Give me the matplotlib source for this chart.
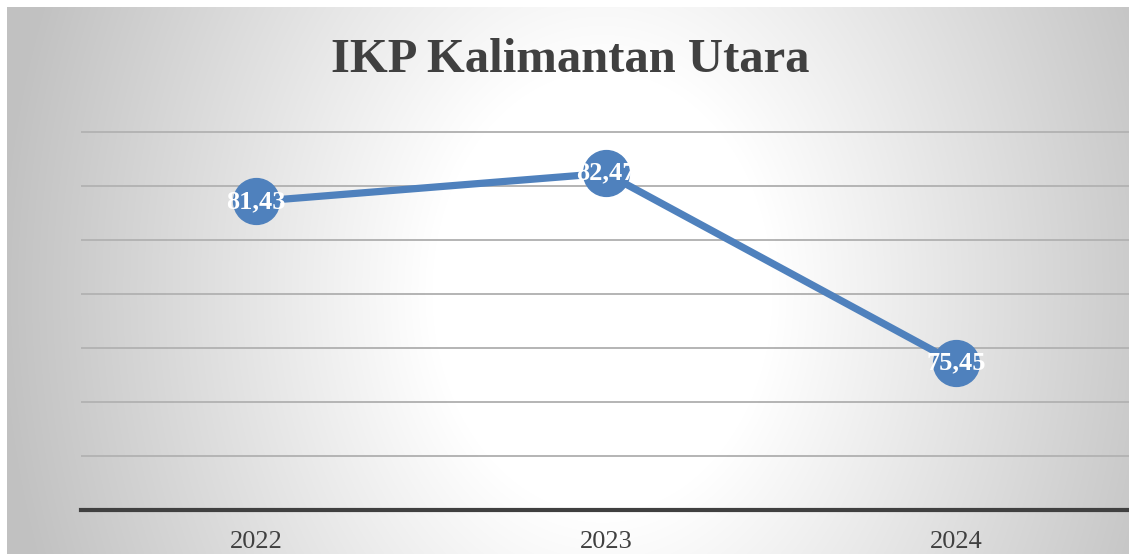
import numpy as np
import matplotlib.pyplot as plt

tahun = ['2022', '2023', '2024']
ikp = [81.43, 82.47, 75.45]
label_ikp = ['81,43', '82,47', '75,45']
grid_y = [72, 74, 76, 78, 80, 82, 84]

W, H = 1129, 554
fig = plt.figure(figsize=(W / 100, H / 100), dpi=100)

# latar belakang gradien radial
bg = fig.add_axes([7 / W, 0, 1 - 7 / W, 1 - 7 / H])
xx, yy = np.meshgrid(np.arange(W - 7), np.arange(H - 7))
d = np.sqrt((xx - 595) ** 2 + ((yy - 285) / 1.3) ** 2)
v = np.clip(1 - 0.24 * (d - 170) / 430, 0.76, 1.0)
bg.imshow(np.dstack([v, v, v]), aspect='auto', interpolation='bilinear')
bg.axis('off')

ax = fig.add_axes([81 / W, 44 / H, 1050 / W, 432 / H])
ax.set_facecolor('none')
ax.set_xlim(-0.5, 2.5)
ax.set_ylim(70, 86)

x = np.arange(len(tahun))
ax.plot(x, ikp, color='#4f81bd', lw=5.2, marker='o', markersize=33,
        solid_capstyle='round', zorder=3)
for i in range(len(tahun)):
    ax.text(x[i], ikp[i], label_ikp[i], color='white', fontsize=19,
            fontweight='bold', family='Liberation Serif',
            ha='center', va='center', zorder=4)

ax.set_yticks(grid_y)
ax.yaxis.grid(True, color='#b4b4b4', lw=1.4)
ax.set_yticklabels([])
ax.tick_params(axis='y', length=0)
ax.set_xticks(x)
ax.set_xticklabels(tahun, fontsize=19, family='Liberation Serif', color='#404040')
ax.tick_params(axis='x', length=0, pad=15)
for s in ['top', 'left', 'right']:
    ax.spines[s].set_visible(False)
ax.spines['bottom'].set_color('#404040')
ax.spines['bottom'].set_linewidth(3)

fig.text(570 / W, 1 - 60 / H, 'IKP Kalimantan Utara', fontsize=35,
         fontweight='bold', family='Liberation Serif', color='#404040',
         ha='center', va='center')

fig.savefig('out.png', dpi=100)
